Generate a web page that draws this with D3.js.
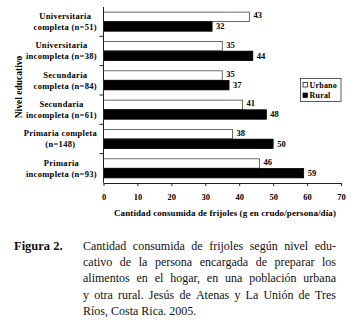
<!DOCTYPE html>
<html>
<head>
<meta charset="utf-8">
<script src="https://cdn.jsdelivr.net/npm/d3@7"></script>
<style>
  body { margin: 0; background: #fff; }
  svg { display: block; }
</style>
</head>
<body>
<div id="chart"></div>
<script>
// categories top to bottom, two lines per label
const categories = [
  ["Universitaria", "completa (n=51)"],
  ["Universitaria", "incompleta (n=38)"],
  ["Secundaria", "completa (n=84)"],
  ["Secundaria", "incompleta (n=61)"],
  ["Primaria completa", "(n=148)"],
  ["Primaria", "incompleta (n=93)"]
];
const series = ["Urbano", "Rural"];
const urbano = [43, 35, 35, 41, 38, 46];
const rural = [32, 44, 37, 48, 50, 59];
const xTicks = [0, 10, 20, 30, 40, 50, 60, 70];
const xTitle = "Cantidad consumida de frijoles (g en crudo/persona/día)";
const yTitle = "Nivel educativo";
const captionLabel = "Figura 2.";
const captionLines = [
  "Cantidad consumida de frijoles según nivel edu-",
  "cativo de la persona encargada de preparar los",
  "alimentos en el hogar, en una población urbana",
  "y otra rural. Jesús de Atenas y La Unión de Tres",
  "Ríos, Costa Rica. 2005."
];

const W = 356, H = 323;
const plot = { left: 103.5, right: 341, top: 7, bottom: 183 };
const SERIF = "'Liberation Serif', 'Times New Roman', serif";

const svg = d3.select("#chart").append("svg")
  .attr("width", W).attr("height", H);

const chart = svg.append("g");

// bold serif helper for chart texts
function bold(sel, size) {
  return sel.style("font-family", SERIF).style("font-weight", "bold")
    .style("font-size", size).attr("fill", "#000");
}

const keys = categories.map((d, i) => i);
const x = d3.scaleLinear().domain([0, 70]).range([plot.left, plot.right]);
const y = d3.scaleBand().domain(keys).range([plot.top, plot.bottom])
  .paddingInner(0.35).paddingOuter(0.175);
const ySub = d3.scaleBand().domain(series).range([0, y.bandwidth()]).paddingInner(0.03);

const rows = keys.map(i => ({ i, Urbano: urbano[i], Rural: rural[i] }));

// bars
const groups = chart.selectAll(".grp").data(rows).enter()
  .append("g").attr("class", "grp")
  .attr("transform", d => `translate(0,${y(d.i)})`);

groups.selectAll("rect").data(d => series.map(s => ({ s, v: d[s] }))).enter()
  .append("rect")
  .attr("x", x(0))
  .attr("y", d => ySub(d.s))
  .attr("width", d => x(d.v) - x(0))
  .attr("height", ySub.bandwidth())
  .attr("fill", d => d.s === "Urbano" ? "#fff" : "#000")
  .attr("stroke", d => d.s === "Urbano" ? "#444" : "#000")
  .attr("stroke-width", 0.8);

groups.selectAll(".val").data(d => series.map(s => ({ s, v: d[s] }))).enter()
  .append("text")
  .attr("class", "val")
  .attr("x", d => x(d.v) + 4)
  .attr("y", d => ySub(d.s) + ySub.bandwidth() / 2 + (d.s === "Urbano" ? -1.5 : 0))
  .attr("dy", "0.35em")
  .call(bold, "8.5px")
  .text(d => d.v);

// x axis
const xAxis = chart.append("g")
  .attr("transform", `translate(0,${plot.bottom})`)
  .call(d3.axisBottom(x).tickValues(xTicks).tickSize(3).tickSizeOuter(0).tickPadding(8));
xAxis.select(".domain").attr("stroke", "#222");
xAxis.selectAll(".tick line").attr("stroke", "#222");
xAxis.selectAll("text").call(bold, "8.5px");

// y axis line and ticks at category boundaries
chart.append("line")
  .attr("x1", plot.left).attr("x2", plot.left)
  .attr("y1", plot.top).attr("y2", plot.bottom)
  .attr("stroke", "#222");
const step = y.step();
chart.selectAll(".ytick").data(keys.slice(1)).enter()
  .append("line")
  .attr("x1", plot.left - 4).attr("x2", plot.left)
  .attr("y1", d => plot.top + d * step).attr("y2", d => plot.top + d * step)
  .attr("stroke", "#222");

// category labels: lines centred on each other, block right-aligned
const labelRight = 97;
categories.forEach((lines, i) => {
  const cy = y(i) + y.bandwidth() / 2;
  const t = chart.append("text")
    .attr("text-anchor", "middle")
    .call(bold, "8.5px")
    .style("letter-spacing", "0.3px");
  const spans = lines.map((ln, k) => t.append("tspan")
    .attr("y", cy + (k === 0 ? -5.5 : 5.5))
    .attr("dy", "0.35em")
    .text(ln));
  const maxW = d3.max(spans, s => s.node().getComputedTextLength());
  spans.forEach(s => s.attr("x", labelRight - maxW / 2));
});

// axis titles
chart.append("text")
  .attr("x", 225).attr("y", 216)
  .attr("text-anchor", "middle")
  .call(bold, "9px")
  .style("letter-spacing", "0.1px")
  .text(xTitle);

chart.append("text")
  .attr("transform", "translate(22,87) rotate(-90)")
  .attr("text-anchor", "middle")
  .call(bold, "9.5px")
  .text(yTitle);

// legend
const lg = chart.append("g").attr("transform", "translate(300.5,78.5)");
lg.append("rect").attr("width", 40.5).attr("height", 23)
  .attr("fill", "#fff").attr("stroke", "#333").attr("stroke-width", 0.8);
series.forEach((s, k) => {
  const yy = 6.5 + k * 10.5;
  lg.append("rect").attr("x", 2.5).attr("y", yy - 2.5).attr("width", 4.5).attr("height", 4.5)
    .attr("fill", s === "Urbano" ? "#fff" : "#000").attr("stroke", "#000").attr("stroke-width", 0.7);
  lg.append("text").attr("x", 9).attr("y", yy).attr("dy", "0.35em")
    .call(bold, "8px").style("letter-spacing", "0.2px").text(s);
});

// caption, justified like the source
const cap = svg.append("g");
cap.append("text").attr("x", 14).attr("y", 250)
  .style("font-family", SERIF).style("font-weight", "bold")
  .style("font-size", "12.5px").attr("fill", "#111").text(captionLabel);

const capLeft = 83, capRight = 336, lineH = 16.2;
captionLines.forEach((ln, li) => {
  const yy = 250 + li * lineH;
  const words = ln.split(" ");
  const last = li === captionLines.length - 1;
  const t = cap.append("text").attr("y", yy)
    .style("font-family", SERIF).style("font-size", "12px").attr("fill", "#111");
  const spans = words.map(w => t.append("tspan").text(w));
  const widths = spans.map(s => s.node().getComputedTextLength());
  const total = d3.sum(widths);
  const gap = last ? 3 : (capRight - capLeft - total) / (words.length - 1);
  let cx = capLeft;
  spans.forEach((s, k) => {
    s.attr("x", cx).attr("y", yy);
    cx += widths[k] + gap;
  });
});
</script>
</body>
</html>
